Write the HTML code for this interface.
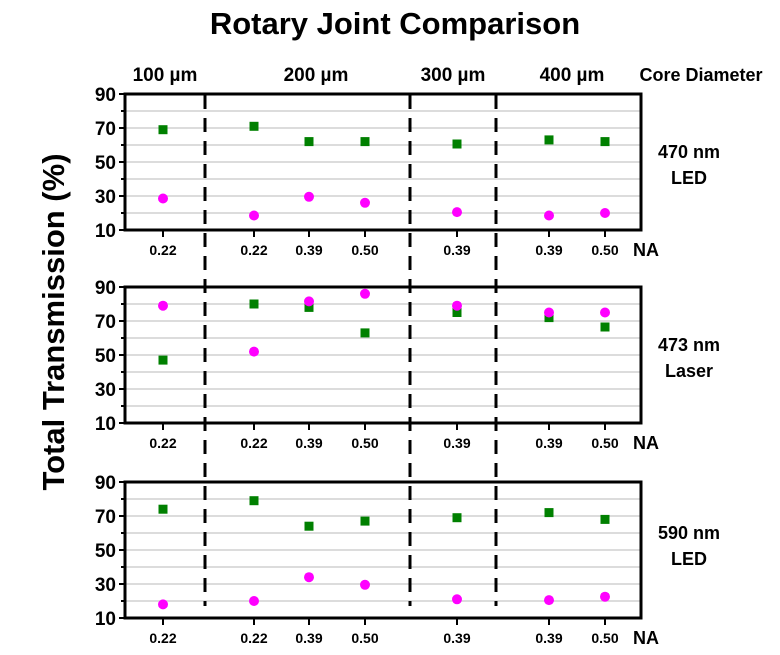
<!DOCTYPE html>
<html><head><meta charset="utf-8"><style>body{margin:0;background:#fff}svg{display:block}text{font-family:"Liberation Sans",Arial,sans-serif;font-weight:bold}</style></head>
<body>
<svg width="780" height="655" viewBox="0 0 780 655" xmlns="http://www.w3.org/2000/svg">
<defs>
<g id="frame">
<g stroke="#c8c8c8" stroke-width="1.3">
<line x1="125" x2="641" y1="213" y2="213"/><line x1="125" x2="641" y1="196" y2="196"/><line x1="125" x2="641" y1="179" y2="179"/><line x1="125" x2="641" y1="162" y2="162"/><line x1="125" x2="641" y1="145" y2="145"/><line x1="125" x2="641" y1="128" y2="128"/><line x1="125" x2="641" y1="111" y2="111"/>
</g>
<g stroke="#000" stroke-width="2">
<line x1="119" x2="125" y1="230" y2="230"/><line x1="119" x2="125" y1="196" y2="196"/><line x1="119" x2="125" y1="162" y2="162"/><line x1="119" x2="125" y1="128" y2="128"/><line x1="119" x2="125" y1="94" y2="94"/>
<line x1="121" x2="125" y1="213" y2="213"/><line x1="121" x2="125" y1="179" y2="179"/><line x1="121" x2="125" y1="145" y2="145"/><line x1="121" x2="125" y1="111" y2="111"/>
<line x1="163" x2="163" y1="230" y2="237"/><line x1="254" x2="254" y1="230" y2="237"/><line x1="309" x2="309" y1="230" y2="237"/><line x1="365" x2="365" y1="230" y2="237"/><line x1="457" x2="457" y1="230" y2="237"/><line x1="549" x2="549" y1="230" y2="237"/><line x1="605" x2="605" y1="230" y2="237"/>
</g>
<rect x="125" y="94" width="516" height="136" fill="none" stroke="#000" stroke-width="3"/>
<g font-size="19" text-anchor="end">
<text x="116" y="237">10</text><text x="116" y="203">30</text><text x="116" y="169">50</text><text x="116" y="135">70</text><text x="116" y="101">90</text>
</g>
<g font-size="14" text-anchor="middle">
<text x="163" y="255">0.22</text><text x="254" y="255">0.22</text><text x="309" y="255">0.39</text><text x="365" y="255">0.50</text><text x="457" y="255">0.39</text><text x="549" y="255">0.39</text><text x="605" y="255">0.50</text>
</g>
<text x="633" y="256" font-size="18">NA</text>
</g>
<rect id="sq" x="-4.5" y="-4.5" width="9" height="9" fill="#008000"/>
<circle id="ci" r="5" fill="#ff00ff"/>
</defs>
<text x="395" y="34" font-size="31" text-anchor="middle">Rotary Joint Comparison</text>
<g font-size="19" text-anchor="middle">
<text x="165" y="81">100 µm</text><text x="316" y="81">200 µm</text><text x="453" y="81">300 µm</text><text x="572" y="81">400 µm</text>
</g>
<text x="701" y="81" font-size="18" text-anchor="middle">Core Diameter</text>
<text transform="translate(64,322) rotate(-90)" font-size="31" text-anchor="middle">Total Transmission (%)</text>
<g font-size="18" text-anchor="middle">
<text x="689" y="158">470 nm</text><text x="689" y="184">LED</text>
<text x="689" y="351">473 nm</text><text x="689" y="377">Laser</text>
<text x="689" y="539">590 nm</text><text x="689" y="565">LED</text>
</g>
<use href="#frame"/>
<use href="#frame" transform="translate(0,193)"/>
<use href="#frame" transform="translate(0,388)"/>
<use href="#sq" x="163" y="129.7"/><use href="#sq" x="254" y="126.3"/><use href="#sq" x="309" y="141.6"/><use href="#sq" x="365" y="141.6"/><use href="#sq" x="457" y="144"/><use href="#sq" x="549" y="139.9"/><use href="#sq" x="605" y="141.6"/>
<use href="#ci" x="163" y="198.5"/><use href="#ci" x="254" y="215.5"/><use href="#ci" x="309" y="196.8"/><use href="#ci" x="365" y="202.8"/><use href="#ci" x="457" y="212.1"/><use href="#ci" x="549" y="215.5"/><use href="#ci" x="605" y="213"/>
<use href="#sq" x="163" y="360.1"/><use href="#sq" x="254" y="304"/><use href="#sq" x="309" y="307.4"/><use href="#sq" x="365" y="332.9"/><use href="#sq" x="457" y="312.5"/><use href="#sq" x="549" y="317.6"/><use href="#sq" x="605" y="327"/>
<use href="#ci" x="163" y="305.7"/><use href="#ci" x="254" y="351.6"/><use href="#ci" x="309" y="301.4"/><use href="#ci" x="365" y="293.8"/><use href="#ci" x="457" y="305.7"/><use href="#ci" x="549" y="312.5"/><use href="#ci" x="605" y="312.5"/>
<use href="#sq" x="163" y="509.2"/><use href="#sq" x="254" y="500.7"/><use href="#sq" x="309" y="526.2"/><use href="#sq" x="365" y="521.1"/><use href="#sq" x="457" y="517.7"/><use href="#sq" x="549" y="512.6"/><use href="#sq" x="605" y="519.4"/>
<use href="#ci" x="163" y="604.4"/><use href="#ci" x="254" y="601"/><use href="#ci" x="309" y="577.2"/><use href="#ci" x="365" y="584.8"/><use href="#ci" x="457" y="599.3"/><use href="#ci" x="549" y="600.1"/><use href="#ci" x="605" y="596.7"/>
<g stroke="#000" stroke-width="3" stroke-dasharray="14,9">
<line x1="205" y1="95" x2="205" y2="606"/><line x1="410" y1="95" x2="410" y2="606"/><line x1="496" y1="95" x2="496" y2="606"/>
</g>
</svg>
</body></html>
